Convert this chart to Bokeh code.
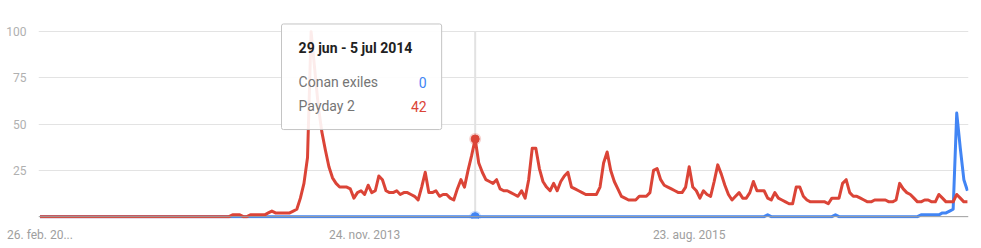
from bokeh.plotting import figure
from bokeh.models import FixedTicker, Range1d, Span, BoxAnnotation, Label
from bokeh.embed import file_html
from bokeh.resources import INLINE

# Weekly search interest, one value per week starting 26 Feb 2012
first_week = "2012-02-26"
tick_weeks = [0, 91, 182]
tick_labels = ["26. feb. 20...", "24. nov. 2013", "23. aug. 2015"]
y_ticks = [25, 50, 75, 100]

series_names = ["Conan exiles", "Payday 2"]
series_colors = ["#4285f4", "#db4437"]

conan_exiles = [
    0, 0, 0, 0, 0, 0, 0, 0, 0, 0, 0, 0, 0, 0, 0, 0, 0, 0, 0, 0,
    0, 0, 0, 0, 0, 0, 0, 0, 0, 0, 0, 0, 0, 0, 0, 0, 0, 0, 0, 0,
    0, 0, 0, 0, 0, 0, 0, 0, 0, 0, 0, 0, 0, 0, 0, 0, 0, 0, 0, 0,
    0, 0, 0, 0, 0, 0, 0, 0, 0, 0, 0, 0, 0, 0, 0, 0, 0, 0, 0, 0,
    0, 0, 0, 0, 0, 0, 0, 0, 0, 0, 0, 0, 0, 0, 0, 0, 0, 0, 0, 0,
    0, 0, 0, 0, 0, 0, 0, 0, 0, 0, 0, 0, 0, 0, 0, 0, 0, 0, 0, 0,
    0, 0, 0, 0, 0, 0, 0, 0, 0, 0, 0, 0, 0, 0, 0, 0, 0, 0, 0, 0,
    0, 0, 0, 0, 0, 0, 0, 0, 0, 0, 0, 0, 0, 0, 0, 0, 0, 0, 0, 0,
    0, 0, 0, 0, 0, 0, 0, 0, 0, 0, 0, 0, 0, 0, 0, 0, 0, 0, 0, 0,
    0, 0, 0, 0, 0, 0, 0, 0, 0, 0, 0, 0, 0, 0, 0, 0, 0, 0, 0, 0,
    0, 0, 0, 0, 1, 0, 0, 0, 0, 0, 0, 0, 0, 0, 0, 0, 0, 0, 0, 0,
    0, 0, 0, 1, 0, 0, 0, 0, 0, 0, 0, 0, 0, 0, 0, 0, 0, 0, 0, 0,
    0, 0, 0, 0, 0, 0, 0, 1, 1, 1, 1, 1, 1, 2, 2, 3, 4, 56, 37, 20,
    14,
]

payday_2 = [
    0, 0, 0, 0, 0, 0, 0, 0, 0, 0, 0, 0, 0, 0, 0, 0, 0, 0, 0, 0,
    0, 0, 0, 0, 0, 0, 0, 0, 0, 0, 0, 0, 0, 0, 0, 0, 0, 0, 0, 0,
    0, 0, 0, 0, 0, 0, 0, 0, 0, 0, 0, 0, 0, 0, 1, 1, 1, 0, 0, 1,
    1, 1, 1, 1, 2, 3, 2, 2, 2, 2, 2, 3, 4, 10, 18, 32, 100, 80, 60, 46,
    36, 27, 21, 18, 16, 16, 16, 15, 10, 13, 14, 12, 17, 13, 14, 22, 20, 14, 13, 13,
    14, 12, 13, 13, 12, 11, 9, 16, 24, 13, 13, 14, 11, 12, 12, 10, 9, 15, 20, 16,
    25, 33, 42, 29, 24, 20, 19, 18, 20, 15, 14, 14, 13, 12, 11, 14, 10, 20, 37, 37,
    26, 19, 16, 14, 18, 14, 19, 22, 24, 16, 15, 14, 13, 12, 12, 12, 12, 16, 29, 35,
    25, 19, 15, 11, 10, 9, 9, 9, 11, 11, 11, 13, 25, 26, 20, 17, 16, 15, 14, 13,
    13, 16, 27, 16, 14, 10, 14, 12, 11, 19, 28, 23, 17, 12, 9, 11, 13, 10, 10, 13,
    19, 14, 14, 14, 10, 9, 13, 10, 9, 8, 7, 7, 16, 16, 11, 9, 8, 8, 8, 8,
    8, 7, 10, 10, 10, 18, 20, 13, 11, 11, 10, 9, 8, 8, 9, 9, 9, 9, 8, 8,
    9, 18, 15, 13, 12, 10, 8, 8, 9, 9, 8, 8, 12, 10, 8, 8, 8, 12, 10, 8,
    8,
]

# Week highlighted by the tooltip
hover_week = 122
hover_label = "29 jun - 5 jul 2014"

week = list(range(len(payday_2)))

p = figure(
    width=981, height=248,
    output_backend="svg", toolbar_location=None,
    x_range=Range1d(-0.42, 260.3), y_range=Range1d(-1, 105),
    min_border_left=38, min_border_right=13,
    min_border_top=22, min_border_bottom=30,
)
p.outline_line_color = None
p.background_fill_color = "white"
p.border_fill_color = "white"

# x axis: three date labels, no line or ticks
p.xaxis.ticker = FixedTicker(ticks=tick_weeks)
p.xaxis.major_label_overrides = {w: t for w, t in zip(tick_weeks, tick_labels)}
p.xaxis.axis_line_color = None
p.xaxis.major_tick_line_color = None
p.xaxis.minor_tick_line_color = None
p.xaxis.major_label_standoff = 3
p.xaxis.major_label_text_font = "Roboto"
p.xaxis.major_label_text_font_size = "12px"
p.xaxis.major_label_text_color = "#9e9e9e"

# y axis: labels only
p.yaxis.ticker = FixedTicker(ticks=y_ticks)
p.yaxis.axis_line_color = None
p.yaxis.major_tick_line_color = None
p.yaxis.minor_tick_line_color = None
p.yaxis.major_label_standoff = 6
p.yaxis.major_label_text_font = "Roboto"
p.yaxis.major_label_text_font_size = "12px"
p.yaxis.major_label_text_color = "#b0b0b0"

p.xgrid.visible = False
p.ygrid.ticker = FixedTicker(ticks=y_ticks)
p.ygrid.grid_line_color = "#e3e3e3"
p.ygrid.grid_line_width = 1

p.add_layout(Span(location=0, dimension="width", line_color="#9e9e9e", line_width=1))

# vertical hover guide
p.segment(x0=[hover_week], y0=[0], x1=[hover_week], y1=[100],
          line_color="#e2e2e2", line_width=2)

p.line(week, conan_exiles, line_color=series_colors[0], line_width=3, line_join="round")
p.line(week, payday_2, line_color=series_colors[1], line_width=3, line_join="round")

# highlighted points
for vals, col in zip([conan_exiles, payday_2], series_colors):
    p.scatter([hover_week], [vals[hover_week]], size=12, fill_color=col,
              fill_alpha=0.25, line_color=None)
    p.scatter([hover_week], [vals[hover_week]], size=8, fill_color=col,
              line_color=col)

# tooltip
p.add_layout(BoxAnnotation(left=67.7, right=112.6, top=104.2, bottom=47.1,
                           fill_color="white", fill_alpha=0.9,
                           line_color="#c4c4c4", line_width=1, line_alpha=1,
                           border_radius=2))
p.add_layout(Label(x=72.5, y=91.2, text=hover_label, text_font="Roboto",
                   text_font_style="bold", text_font_size="14px",
                   text_color="#212121", text_baseline="middle"))
for name, vals, col, yy in zip(series_names, [conan_exiles, payday_2],
                               series_colors, [72.8, 59.8]):
    p.add_layout(Label(x=72.5, y=yy, text=name, text_font="Roboto",
                       text_font_size="14px", text_color="#757575",
                       text_baseline="middle"))
    p.add_layout(Label(x=108.4, y=yy, text=str(vals[hover_week]),
                       text_font="Roboto", text_font_size="14px",
                       text_color=col, text_align="right",
                       text_baseline="middle"))

open("out.html", "w").write(file_html(p, INLINE))
